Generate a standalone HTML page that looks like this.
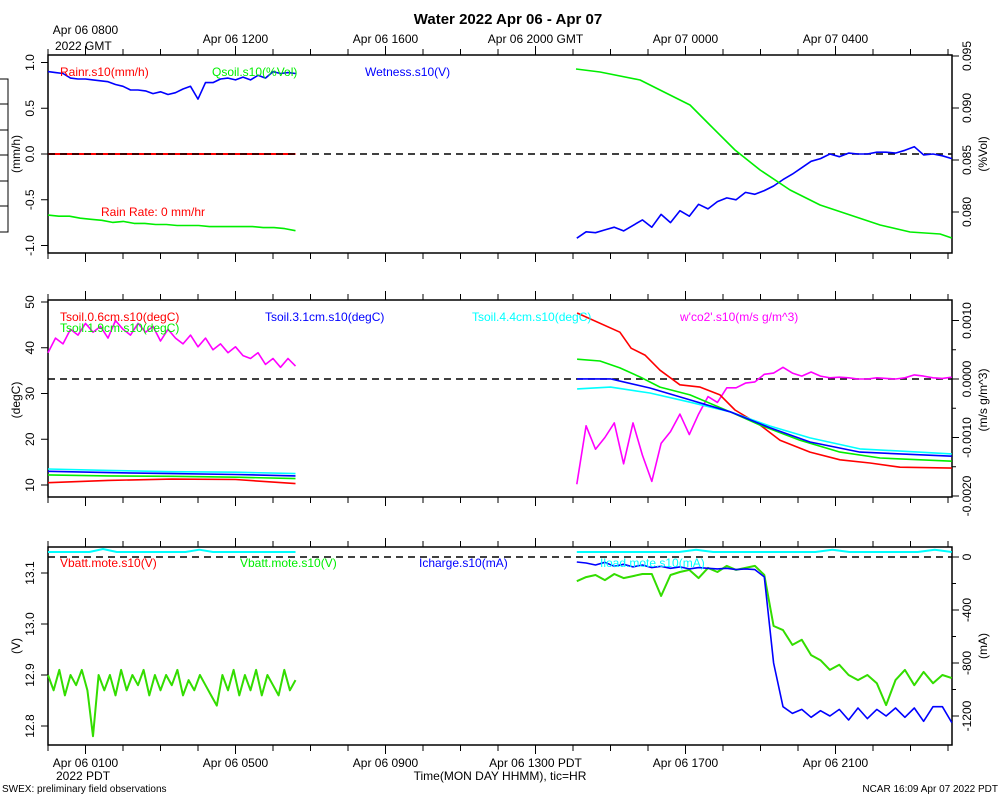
<!DOCTYPE html>
<html><head><meta charset="utf-8"><style>
html,body{margin:0;padding:0;background:#fff;}
svg{display:block;font-family:"Liberation Sans",sans-serif;}
</style></head><body>
<svg id="chart" width="1000" height="800" viewBox="0 0 1000 800" xmlns="http://www.w3.org/2000/svg">
<text x="508" y="24" font-size="15" font-weight="bold" text-anchor="middle">Water 2022 Apr 06 - Apr 07</text>
<g stroke="#000" stroke-width="1" fill="none">
<rect x="-1" y="79" width="9" height="153"/>
<line x1="0" y1="104" x2="8" y2="104"/><line x1="0" y1="130" x2="8" y2="130"/><line x1="0" y1="155" x2="8" y2="155"/><line x1="0" y1="181" x2="8" y2="181"/><line x1="0" y1="206" x2="8" y2="206"/>
</g>
<text x="2" y="792" font-size="10">SWEX: preliminary field observations</text>
<text x="998" y="792" font-size="10" text-anchor="end">NCAR 16:09 Apr 07 2022 PDT</text>
<text x="500" y="780" font-size="12" text-anchor="middle">Time(MON DAY HHMM), tic=HR</text>
<text x="55" y="50" font-size="12">2022 GMT</text>
<text x="56" y="780" font-size="12">2022 PDT</text>
</svg>
<script>
// ---------- time axis data ----------
const topTickHours = [1,5,9,13,17,21];
const topTickLabels = ["Apr 06 0800","Apr 06 1200","Apr 06 1600","Apr 06 2000 GMT","Apr 07 0000","Apr 07 0400"];
const bottomTickLabels = ["Apr 06 0100","Apr 06 0500","Apr 06 0900","Apr 06 1300 PDT","Apr 06 1700","Apr 06 2100"];

// ---------- panel 1 data ----------
const wetLeft = [0.90,0.89,0.88,0.83,0.82,0.82,0.81,0.80,0.79,0.76,0.74,0.70,0.70,0.69,0.66,0.68,0.65,0.67,0.71,0.74,0.60,0.78,0.78,0.82,0.83,0.81,0.84,0.81,0.86,0.83,0.90,0.88,0.89,0.88];
const wetRight = [-0.92,-0.85,-0.86,-0.83,-0.80,-0.84,-0.78,-0.72,-0.80,-0.66,-0.75,-0.62,-0.68,-0.55,-0.60,-0.52,-0.48,-0.50,-0.42,-0.44,-0.40,-0.35,-0.28,-0.22,-0.15,-0.08,-0.05,0.0,-0.03,0.01,0.0,0.0,0.02,0.02,0.01,0.04,0.08,-0.01,0.0,-0.02,-0.05];
const qsoilLeft = [0.0797,0.0796,0.0796,0.0794,0.0793,0.0792,0.0790,0.0791,0.0789,0.0789,0.0788,0.0788,0.0787,0.0787,0.0787,0.0786,0.0786,0.0786,0.0786,0.0786,0.0785,0.0785,0.0784,0.0782];
const qsoilRightT = [14.08,14.72,15.79,16.32,17.12,17.65,18.32,18.99,19.79,20.59,21.39,22.19,22.99,23.79,24.1];
const qsoilRight = [0.09375,0.09346,0.09269,0.09173,0.09029,0.08837,0.08596,0.08404,0.08212,0.08067,0.07971,0.07875,0.07808,0.07788,0.0775];
const p1LeftTicks = [1.0,0.5,0.0,-0.5,-1.0];
const p1LeftLabels = ["1.0","0.5","0.0","-0.5","-1.0"];
const p1RightTicks = [0.095,0.090,0.085,0.080];
const p1RightLabels = ["0.095","0.090","0.085","0.080"];

// ---------- panel 2 data ----------
const tempLeftT = [0,1.6,3.3,5,6.6];
const tsoil06Left = [10.5,11.0,11.3,11.2,10.3];
const tsoil19Left = [12.2,12.0,11.9,11.7,11.4];
const tsoil31Left = [13.0,12.7,12.5,12.3,12.0];
const tsoil44Left = [13.5,13.2,12.9,12.8,12.5];
const tsoil06RT = [14.11,15.25,15.55,15.92,16.32,16.85,17.39,17.92,18.32,18.99,19.52,20.32,21.12,21.92,22.72,24.1];
const tsoil06R = [47.6,43.4,39.9,38.4,35.1,31.9,31.4,29.7,26.4,23.1,19.8,17.2,15.5,14.8,13.9,13.7];
const tsoil19RT = [14.11,14.72,15.25,15.79,16.32,17.12,18.19,18.99,20.05,21.12,22.19,24.1];
const tsoil19R = [37.5,37.1,35.6,33.6,31.4,29.7,26.0,23.1,19.8,17.2,15.9,15.2];
const tsoil31RT = [14.11,15.0,16.05,17.12,18.19,19.25,20.32,21.65,24.1];
const tsoil31R = [33.2,33.2,31.2,28.6,26.0,22.5,19.4,17.2,16.3];
const tsoil44R = [31.0,31.4,30.1,28.1,26.0,22.9,20.3,17.9,16.8];
const co2Left = [0.45,0.70,0.60,0.85,0.75,0.95,0.80,0.90,0.70,1.00,0.85,0.75,0.95,0.80,0.90,0.65,0.85,0.70,0.60,0.75,0.55,0.70,0.50,0.60,0.45,0.55,0.40,0.35,0.45,0.25,0.35,0.20,0.35,0.22];
const co2Right = [-1.8,-0.8,-1.2,-1.0,-0.75,-1.45,-0.75,-1.3,-1.75,-1.1,-0.9,-0.6,-0.95,-0.6,-0.3,-0.4,-0.15,-0.15,-0.07,-0.05,0.08,0.1,0.2,0.1,0.05,0.12,0.05,0.02,0.03,0.02,0.0,0.0,0.02,0.01,0.0,0.02,0.07,0.05,0.02,0.01,0.03];
const p2LeftTicks = [50,40,30,20,10];
const p2LeftLabels = ["50","40","30","20","10"];
const p2RightTicks = [1.0,0.5,0.0,-0.5,-1.0,-1.5,-2.0];
const p2RightLabels = ["0.0010","","0.0000","","-0.0010","","-0.0020"];

// ---------- panel 3 data ----------
const vbattLeft = [12.90,12.87,12.91,12.86,12.90,12.88,12.91,12.87,12.78,12.90,12.87,12.90,12.86,12.91,12.87,12.90,12.88,12.91,12.86,12.90,12.87,12.90,12.88,12.91,12.86,12.89,12.87,12.90,12.88,12.86,12.84,12.90,12.87,12.91,12.86,12.90,12.87,12.91,12.86,12.90,12.88,12.86,12.91,12.87,12.89];
const vbattRight = [13.084,13.092,13.096,13.086,13.098,13.090,13.094,13.098,13.098,13.055,13.096,13.102,13.106,13.090,13.110,13.102,13.114,13.106,13.110,13.114,13.096,12.996,12.988,12.959,12.969,12.939,12.929,12.910,12.920,12.900,12.890,12.900,12.884,12.841,12.890,12.910,12.880,12.906,12.884,12.900,12.894];
const ichargeRight = [-38,-45,-60,-40,-70,-55,-75,-60,-80,-70,-85,-75,-90,-80,-85,-90,-85,-95,-90,-95,-150,-800,-1130,-1180,-1150,-1210,-1160,-1200,-1150,-1230,-1140,-1220,-1150,-1200,-1140,-1210,-1140,-1240,-1130,-1130,-1250];
const loadLeft = [38,38,38,38,60,38,38,38,38,38,38,55,38,38,38,38,38,38,38];
const loadRight = [38,38,38,38,38,38,38,55,38,38,38,38,38,38,38,55,38,38,38,38,38,55,38];
const p3LeftTicks = [13.1,13.0,12.9,12.8];
const p3LeftLabels = ["13.1","13.0","12.9","12.8"];
const p3RightTicks = [0,-200,-400,-600,-800,-1000,-1200];
const p3RightLabels = ["0","","-400","","-800","","-1200"];

// ---------- rendering ----------
const svg = document.getElementById('chart');
const NS = 'http://www.w3.org/2000/svg';
const X0 = 48, X1 = 952, PXH = 37.5;
const xs = t => X0 + t * PXH;
function lin(v0, p0, v1, p1){ return v => p0 + (v - v0) * (p1 - p0) / (v1 - v0); }
function mk(tag, attrs, name){
  const el = document.createElementNS(NS, tag);
  for (const k in attrs) el.setAttribute(k, attrs[k]);
  
  
  svg.appendChild(el);
  return el;
}
function uniformT(n, t0, t1){ const a=[]; for(let i=0;i<n;i++) a.push(t0 + (t1-t0)*i/(n-1)); return a; }
function line(ts, vs, ys, color, name, w){
  const d = ts.map((t,i)=>(i?'L':'M')+xs(t).toFixed(1)+','+ys(vs[i]).toFixed(1)).join('');
  mk('path', {d:d, fill:'none', stroke:color, 'stroke-width':w||1.6, 'stroke-linejoin':'round'}, name);
}
function txt(x,y,s,attrs,name){ const e=mk('text',Object.assign({x:x,y:y,'font-size':12},attrs||{}),name); e.textContent=s; return e; }

function frame(top, bot, pname, topLabels, botLabels){
  mk('rect', {x:X0, y:top, width:X1-X0, height:bot-top, fill:'none', stroke:'#000', 'stroke-width':1.5}, pname+'-frame');
  for (let h=0; h<=24; h++){
    const x = xs(h); if (x > X1) break;
    const major = (h % 4) === 1;
    mk('line', {x1:x, y1:top, x2:x, y2:top-(major?9:6), stroke:'#000','stroke-width':1}, pname+'-top-tick');
    mk('line', {x1:x, y1:bot, x2:x, y2:bot+(major?9:6), stroke:'#000','stroke-width':1}, pname+'-bottom-tick');
  }
  if (topLabels) topTickHours.forEach((h,i)=>txt(xs(h), i===0 ? top-21 : top-12, topLabels[i], {'text-anchor':'middle'}, 'top-time-label'));
  if (botLabels) topTickHours.forEach((h,i)=>txt(xs(h), bot+22, botLabels[i], {'text-anchor':'middle'}, 'bottom-time-label'));
}
function yaxis(ticks, labels, ys, side, pname){
  ticks.forEach((v,i)=>{
    const y = ys(v);
    const x = side==='left' ? X0 : X1;
    const dir = side==='left' ? -1 : 1;
    const len = labels[i] ? 7 : 4;
    mk('line', {x1:x, y1:y, x2:x+dir*len, y2:y, stroke:'#000','stroke-width':1}, pname+'-'+side+'-tick');
    if (labels[i]){
      const lx = side==='left' ? X0-14 : X1+19;
      txt(lx, y, labels[i], {'text-anchor':'middle', transform:'rotate(-90 '+lx+' '+y+')'}, pname+'-'+side+'-tick-label');
    }
  });
}
function ytitle(x, y, s, name){ txt(x, y, s, {'text-anchor':'middle', transform:'rotate(-90 '+x+' '+y+')'}, name); }
function dashed(y, name){ mk('line',{x1:X0,y1:y,x2:X1,y2:y,stroke:'#000','stroke-width':1.6,'stroke-dasharray':'7,5'},name); }

// Panel 1
const p1L = lin(0, 154, 1, 62.5);
const p1R = lin(0.090, 108, 0.080, 212);
frame(55, 253, 'panel1', topTickLabels, null);
yaxis(p1LeftTicks, p1LeftLabels, p1L, 'left', 'panel1');
yaxis(p1RightTicks, p1RightLabels, p1R, 'right', 'panel1');
ytitle(20, 154, '(mm/h)', 'panel1-left-title');
ytitle(987, 154, '(%Vol)', 'panel1-right-title');
line([0,6.6],[0,0],p1L,'#ff0000','rainr-line',2);
dashed(p1L(0),'panel1-zero-line');
line(uniformT(wetLeft.length,0,6.6), wetLeft, p1L, '#0000ff', 'wetness-line-left');
line(uniformT(wetRight.length,14.1,24.1), wetRight, p1L, '#0000ff', 'wetness-line-right');
line(uniformT(qsoilLeft.length,0,6.6), qsoilLeft, p1R, '#00ee00', 'qsoil-line-left');
line(qsoilRightT, qsoilRight, p1R, '#00ee00', 'qsoil-line-right');
txt(60, 76, 'Rainr.s10(mm/h)', {fill:'#ff0000'}, 'legend-rainr');
txt(212, 76, 'Qsoil.s10(%Vol)', {fill:'#00ee00'}, 'legend-qsoil');
txt(365, 76, 'Wetness.s10(V)', {fill:'#0000ff'}, 'legend-wetness');
txt(101, 216, 'Rain Rate: 0 mm/hr', {fill:'#ff0000'}, 'rain-rate-annotation');

// Panel 2
const p2L = lin(50, 302, 10, 485);
const p2R = lin(0, 379, 1, 320.5);
frame(300, 497, 'panel2', null, null);
yaxis(p2LeftTicks, p2LeftLabels, p2L, 'left', 'panel2');
yaxis(p2RightTicks, p2RightLabels, p2R, 'right', 'panel2');
ytitle(20, 400, '(degC)', 'panel2-left-title');
ytitle(987, 400, '(m/s g/m^3)', 'panel2-right-title');
dashed(p2R(0),'panel2-zero-line');
line(tempLeftT, tsoil44Left, p2L, '#00ffff', 'tsoil-4.4cm-left');
line(tempLeftT, tsoil31Left, p2L, '#0000ff', 'tsoil-3.1cm-left');
line(tempLeftT, tsoil19Left, p2L, '#00ee00', 'tsoil-1.9cm-left');
line(tempLeftT, tsoil06Left, p2L, '#ff0000', 'tsoil-0.6cm-left');
line(uniformT(co2Left.length,0,6.6), co2Left, p2R, '#ff00ff', 'wco2-line-left');
line(uniformT(co2Right.length,14.1,24.1), co2Right, p2R, '#ff00ff', 'wco2-line-right');
line(tsoil06RT, tsoil06R, p2L, '#ff0000', 'tsoil-0.6cm-right');
line(tsoil19RT, tsoil19R, p2L, '#00ee00', 'tsoil-1.9cm-right');
line(tsoil31RT, tsoil44R, p2L, '#00ffff', 'tsoil-4.4cm-right');
line(tsoil31RT, tsoil31R, p2L, '#0000ff', 'tsoil-3.1cm-right');
txt(60, 321, 'Tsoil.0.6cm.s10(degC)', {fill:'#ff0000'}, 'legend-tsoil-0.6cm');
txt(60, 332, 'Tsoil.1.9cm.s10(degC)', {fill:'#00ee00'}, 'legend-tsoil-1.9cm');
txt(265, 321, 'Tsoil.3.1cm.s10(degC)', {fill:'#0000ff'}, 'legend-tsoil-3.1cm');
txt(472, 321, 'Tsoil.4.4cm.s10(degC)', {fill:'#00ffff'}, 'legend-tsoil-4.4cm');
txt(680, 321, "w'co2'.s10(m/s g/m^3)", {fill:'#ff00ff'}, 'legend-wco2');

// Panel 3
const p3L = lin(13.1, 573, 12.8, 726);
const p3R = lin(0, 557, -1200, 716);
frame(547, 745, 'panel3', null, bottomTickLabels);
yaxis(p3LeftTicks, p3LeftLabels, p3L, 'left', 'panel3');
yaxis(p3RightTicks, p3RightLabels, p3R, 'right', 'panel3');
ytitle(20, 646, '(V)', 'panel3-left-title');
ytitle(987, 646, '(mA)', 'panel3-right-title');
line(uniformT(loadLeft.length,0,6.6), loadLeft, p3R, '#00ffff', 'iload-line-left', 2);
line(uniformT(loadRight.length,14.1,24.1), loadRight, p3R, '#00ffff', 'iload-line-right', 2);
dashed(p3R(0),'panel3-zero-line');
line(uniformT(vbattLeft.length,0,6.6), vbattLeft, p3L, '#33dd00', 'vbatt-line-left', 2);
line(uniformT(vbattRight.length,14.1,24.1), vbattRight, p3L, '#33dd00', 'vbatt-line-right', 2);
line(uniformT(ichargeRight.length,14.1,24.1), ichargeRight, p3R, '#0000ff', 'icharge-line-right');
txt(60, 567, 'Vbatt.mote.s10(V)', {fill:'#ff0000'}, 'legend-vbatt-red');
txt(240, 567, 'Vbatt.mote.s10(V)', {fill:'#00ee00'}, 'legend-vbatt-green');
txt(419, 567, 'Icharge.s10(mA)', {fill:'#0000ff'}, 'legend-icharge');
txt(600, 567, 'Iload.mote.s10(mA)', {fill:'#00ffff'}, 'legend-iload');
</script>
</body></html>
